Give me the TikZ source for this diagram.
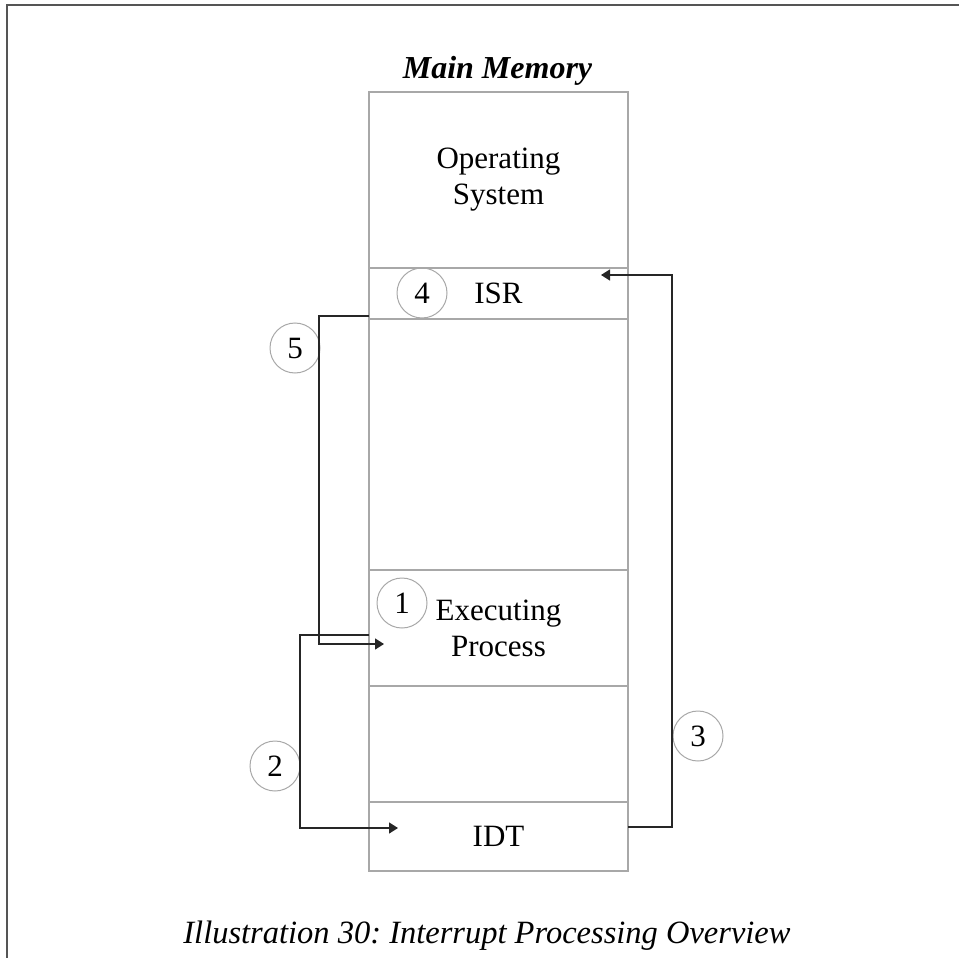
\documentclass[tikz,border=0pt]{standalone}
\usepackage{fontspec}
\setmainfont{Liberation Serif}
\usepackage{tikz}
\usetikzlibrary{arrows.meta}
\definecolor{boxgray}{HTML}{A8A8A8}
\definecolor{framegray}{HTML}{555555}
\frenchspacing

\begin{document}
\begin{tikzpicture}[x=1pt, y=-1pt, line width=1.5pt,
  sect/.style={draw=boxgray, minimum width=259pt, inner sep=0pt, outer sep=0pt, align=center},
  num/.style={draw=boxgray, line width=1pt, circle, minimum size=50pt, inner sep=0pt},
  conn/.style={draw=black!85, -{Triangle[length=9pt,width=11pt]}}]
  \useasboundingbox (0,0) rectangle (959,958);
  \fontsize{31}{36}\selectfont
  % frame
  \draw[framegray, line width=2pt] (7,958) -- (7,5) -- (959,5);
  % main memory column
  \node[anchor=base] (title) at (497.5,78) {\fontsize{32}{38}\selectfont\bfseries\itshape Main Memory};
  \node[sect, minimum height=176pt] (os) at (498.5,180) {Operating\\System};
  \node[sect, minimum height=51pt] (isr) at (498.5,293.5) {ISR};
  \node[sect, minimum height=251pt] (free) at (498.5,444.5) {};
  \node[sect, minimum height=116pt] (exec) at (498.5,628) {Executing\\Process};
  \node[sect, minimum height=116pt] (gap) at (498.5,744) {};
  \node[sect, minimum height=69pt] (idt) at (498.5,836.5) {IDT};
  % step numbers
  \node[num] (n1) at (402,603) {1};
  \node[num] (n2) at (275,766) {2};
  \node[num] (n3) at (698,736) {3};
  \node[num] (n4) at (422,293) {4};
  \node[num] (n5) at (295,348) {5};
  % arrow ends
  \coordinate (in2) at ([xshift=29pt,yshift=8.5pt]idt.west);
  \coordinate (in3) at ([xshift=-27pt,yshift=18.5pt]isr.east);
  \coordinate (in5) at ([xshift=15pt,yshift=-16pt]exec.west);
  % connectors
  \draw[conn] ([yshift=-7pt]exec.west) -- ++(-69,0) |- (in2);
  \draw[conn] ([yshift=9.5pt]idt.east) -- ++(44,0) |- (in3);
  \draw[conn] ([yshift=3pt]isr.south west) -- ++(-50,0) |- (in5);
  % caption
  \node[anchor=base] (caption) at (487,943) {\fontsize{32.5}{38}\selectfont\itshape Illustration 30: Interrupt Processing Overview};
\end{tikzpicture}
\end{document}
